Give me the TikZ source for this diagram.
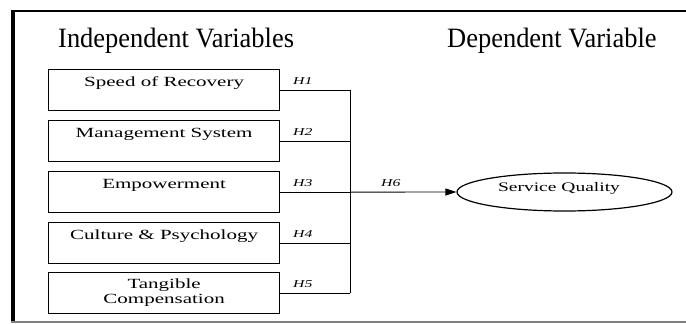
\documentclass[tikz,border=0pt]{standalone}
\usepackage{fontspec}
\setmainfont{Liberation Serif}
\newfontfamily\boxfont[FakeStretch=1.5]{Liberation Serif}
\newfontfamily\headfont[FakeStretch=0.945]{Liberation Serif}
\usetikzlibrary{arrows.meta,shapes.geometric}
\begin{document}
\begin{tikzpicture}[x=1pt,y=-1pt,
  basebox/.style={draw, line width=1.2pt, inner sep=0pt, minimum width=231pt,
    minimum height=41pt, anchor=north west, font=\boxfont\fontsize{14}{15}\selectfont},
  onebox/.style={basebox, text height=16.5pt, text depth=24.5pt},
  hlab/.style={anchor=base west, inner sep=0pt, font=\boxfont\itshape\fontsize{10.5}{12}\selectfont},
  head/.style={anchor=base west, inner sep=0pt, font=\headfont\fontsize{28}{30}\selectfont},
  conn/.style={line width=0.9pt}]
\useasboundingbox (0,0) rectangle (686,324);
% frame
\draw[line width=2.5pt] (11,11) -- (686,11);
\draw[line width=4pt] (13,9.75) -- (13,322.5);
\draw[gray, line width=1.5pt] (11,322) -- (686,322);
% headers
\node[head] (hi) at (58,47) {Independent Variables};
\node[head] (hd) at (447,47) {Dependent Variable};
% boxes
\node[onebox] (b1) at (48,69) {Speed of Recovery};
\node[onebox] (b2) at (48,120) {Management System};
\node[onebox] (b3) at (48,171) {Empowerment};
\node[onebox] (b4) at (48,222) {Culture \& Psychology};
\node[basebox, align=center] (b5) at (48,272) {Tangible\\Compensation};
% ellipse
\node[draw, ellipse, line width=1.2pt, inner sep=0pt, minimum width=215pt, minimum height=38pt,
  font=\boxfont\fontsize{13}{15}\selectfont, text height=4pt, text depth=6pt]
  (sq) at (564.5,192) {\hspace*{-11pt}Service Quality};
% connectors
\coordinate (vt) at (350,90);
\draw[conn] (b1.east) -- (b1.east -| vt);
\draw[conn] (b2.east) -- (b2.east -| vt);
\draw[conn] (b3.east) -- (b3.east -| vt);
\draw[conn] (b4.east) -- (b4.east -| vt);
\draw[conn] (b5.east) -- (b5.east -| vt);
\draw[conn] (b1.east -| vt) -- (b5.east -| vt);
\draw[conn, -{Triangle[length=11pt,width=7pt]}] (b3.east -| vt) -- (sq.west);
% labels
\node[hlab] (h1) at (293,84) {H1};
\node[hlab] (h2) at (293,135) {H2};
\node[hlab] (h3) at (293,186) {H3};
\node[hlab] (h4) at (293,237) {H4};
\node[hlab] (h5) at (293,287) {H5};
\node[hlab] (h6) at (381,186) {H6};
\end{tikzpicture}
\end{document}
